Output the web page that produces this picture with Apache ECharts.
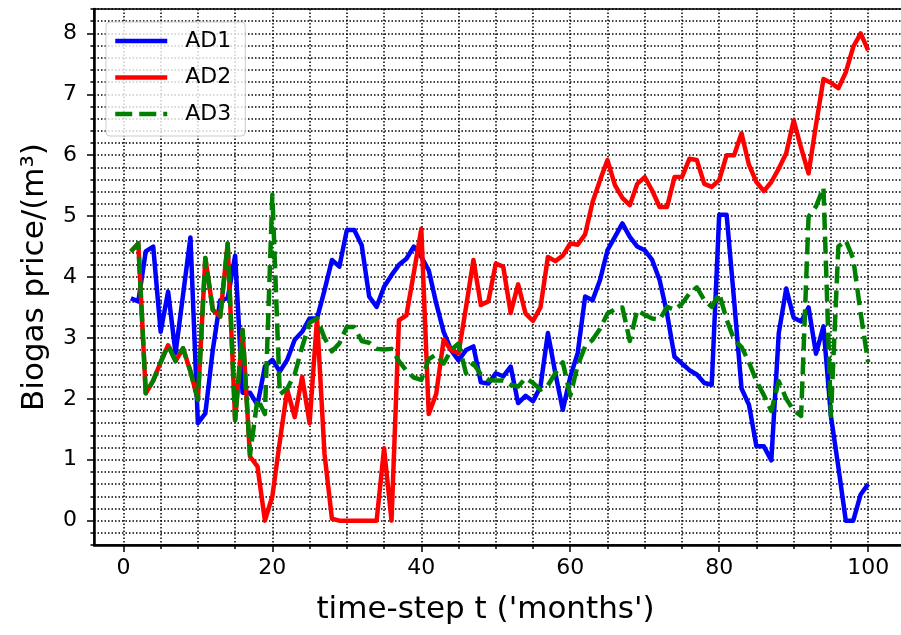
<!DOCTYPE html>
<html>
<head>
<meta charset="utf-8">
<script src="https://cdn.jsdelivr.net/npm/echarts@6/dist/echarts.min.js"></script>
<style>
html, body { margin: 0; padding: 0; background: #fff; }
#chart { width: 901px; height: 635px; }
</style>
</head>
<body>
<div id="chart"></div>
<script>
// time steps (months)
var steps = [];
for (var i = 1; i <= 100; i++) steps.push(i);

// biogas price per plant
var ad1 = [3.65, 3.6, 4.42, 4.5, 3.1, 3.76, 2.75, 3.7, 4.65, 1.6,
    1.76, 2.8, 3.62, 3.65, 4.35, 2.1, 2.1, 1.9, 2.53, 2.64,
    2.45, 2.64, 2.97, 3.1, 3.32, 3.32, 3.78, 4.28, 4.17, 4.77,
    4.77, 4.52, 3.68, 3.51, 3.84, 4.03, 4.2, 4.3, 4.5, 4.33,
    4.11, 3.57, 3.1, 2.8, 2.63, 2.8, 2.86, 2.27, 2.25, 2.42,
    2.37, 2.53, 1.93, 2.05, 1.96, 2.2, 3.08, 2.42, 1.82, 2.36,
    2.75, 3.68, 3.62, 3.95, 4.44, 4.66, 4.88, 4.66, 4.5, 4.44,
    4.28, 3.95, 3.4, 2.69, 2.58, 2.47, 2.4, 2.26, 2.23, 5.02,
    5.02, 3.62, 2.17, 1.9, 1.22, 1.22, 0.99, 3.08, 3.81, 3.33,
    3.27, 3.5, 2.74, 3.19, 1.72, 0.88, 0, 0, 0.43, 0.6];

var ad2 = [4.42, 4.55, 2.09, 2.3, 2.6, 2.88, 2.62, 2.83, 2.45, 1.98,
    4.31, 3.46, 3.35, 4.55, 1.65, 3.13, 1.05, 0.89, 0, 0.4,
    1.3, 2.15, 1.7, 2.36, 1.6, 3.32, 1.1, 0.03, 0, 0,
    0, 0, 0, 0, 1.19, 0, 3.29, 3.37, 4.07, 4.79,
    1.75, 2.08, 2.97, 2.8, 2.75, 3.5, 4.28, 3.54, 3.6, 4.22,
    4.17, 3.41, 3.88, 3.4, 3.28, 3.5, 4.33, 4.26, 4.35, 4.55,
    4.53, 4.7, 5.23, 5.59, 5.92, 5.51, 5.3, 5.18, 5.53, 5.64,
    5.42, 5.15, 5.15, 5.64, 5.64, 5.94, 5.92, 5.53, 5.48, 5.59,
    6.0, 6.0, 6.36, 5.84, 5.56, 5.41, 5.56, 5.78, 6.03, 6.57,
    6.12, 5.7, 6.5, 7.25, 7.19, 7.1, 7.36, 7.78, 8.0, 7.72];

var ad3 = [4.42, 4.55, 2.09, 2.3, 2.6, 2.88, 2.62, 2.83, 2.45, 1.98,
    4.31, 3.46, 3.35, 4.55, 1.65, 3.13, 1.08, 2.0, 1.75, 5.35,
    2.07, 2.17, 2.4, 2.85, 3.25, 3.32, 3.0, 2.78, 2.91, 3.18,
    3.18, 2.95, 2.92, 2.82, 2.81, 2.82, 2.62, 2.46, 2.35, 2.31,
    2.65, 2.73, 2.58, 2.8, 2.91, 2.42, 2.58, 2.4, 2.31, 2.3,
    2.3, 2.23, 2.2, 2.34, 2.26, 2.15, 2.22, 2.42, 2.6, 2.05,
    2.55, 2.86, 2.97, 3.15, 3.4, 3.47, 3.5, 2.95, 3.46, 3.38,
    3.32, 3.3, 3.51, 3.46, 3.56, 3.73, 3.83, 3.62, 3.51, 3.73,
    3.3, 2.97, 2.85, 2.6, 2.29, 2.06, 1.8, 2.29, 2.0, 1.81,
    1.72, 4.99, 5.16, 5.47, 1.72, 4.5, 4.6, 4.3, 3.4, 2.6];

// ticks
var xMajor = [0, 20, 40, 60, 80, 100];
var xMinor = [0, 5, 10, 15, 20, 25, 30, 35, 40, 45, 50, 55, 60, 65, 70, 75, 80, 85, 90, 95, 100];
var yMajor = [0, 1, 2, 3, 4, 5, 6, 7, 8];

var font = "DejaVu Sans";
var dots = { color: "#000", width: 1.5, type: [1.5, 2] };
var tickLine = { color: "#000", width: 1.5 };
var dashGreen = [17, 7];

function pairs(arr) {
    return steps.map((t, k) => [t, arr[k]]);
}

var myChart = echarts.init(document.querySelector("#chart"));
var option = {
    animation: false,
    backgroundColor: "#fff",
    grid: {
        left: 94,
        right: -4,
        top: 9,
        bottom: 90,
        show: true,
        borderColor: "#000",
        borderWidth: 1.5,
        outerBoundsMode: "none"
    },
    legend: {
        left: 106,
        top: 22,
        orient: "vertical",
        itemWidth: 52,
        itemHeight: 22,
        itemGap: 14.5,
        padding: [8, 14, 11, 7],
        backgroundColor: "rgba(255,255,255,0.8)",
        borderColor: "#cccccc",
        borderWidth: 1,
        borderRadius: 4,
        itemStyle: { opacity: 0 },
        textStyle: {
            fontFamily: font,
            fontSize: 22,
            color: "#000",
            padding: [0, 0, 0, 13]
        },
        data: [
            { name: "AD1", lineStyle: { width: 4.5 } },
            { name: "AD2", lineStyle: { width: 4.5 } },
            { name: "AD3", lineStyle: { width: 4.5, type: dashGreen, cap: "butt" } }
        ]
    },
    xAxis: [
        {
            type: "value",
            min: -3.95,
            max: 104.95,
            position: "bottom",
            axisLine: { onZero: false, lineStyle: { color: "#000", width: 2.5 } },
            axisTick: { customValues: xMinor, length: 4, lineStyle: tickLine },
            axisLabel: { show: false },
            splitLine: { show: true, lineStyle: dots }
        },
        {
            type: "value",
            min: -3.95,
            max: 104.95,
            position: "bottom",
            axisLine: { show: false, onZero: false },
            axisTick: { customValues: xMajor, length: 7, lineStyle: tickLine },
            axisLabel: {
                customValues: xMajor,
                margin: 12,
                fontFamily: font,
                fontSize: 22,
                color: "#000"
            },
            splitLine: { show: false },
            name: "time-step t ('months')",
            nameLocation: "middle",
            nameGap: 49,
            nameTextStyle: {
                fontFamily: font,
                fontSize: 31,
                color: "#000",
                padding: [0, 28, 0, 0]
            }
        }
    ],
    yAxis: [
        {
            type: "value",
            min: -0.4,
            max: 8.4,
            interval: 0.2,
            position: "left",
            axisLine: { onZero: false, lineStyle: { color: "#000", width: 2.5 } },
            axisTick: { length: 3.5, lineStyle: tickLine },
            axisLabel: { show: false },
            splitLine: { show: true, lineStyle: dots }
        },
        {
            type: "value",
            min: -0.4,
            max: 8.4,
            position: "left",
            axisLine: { show: false, onZero: false },
            axisTick: { customValues: yMajor, length: 7, lineStyle: tickLine },
            axisLabel: {
                customValues: yMajor,
                margin: 17,
                fontFamily: font,
                fontSize: 22,
                color: "#000"
            },
            splitLine: { show: false },
            name: "Biogas price/(m³)",
            nameLocation: "middle",
            nameGap: 44,
            nameTextStyle: {
                fontFamily: font,
                fontSize: 31,
                color: "#000"
            }
        }
    ],
    series: [
        {
            name: "AD1",
            type: "line",
            data: pairs(ad1),
            symbol: "none",
            color: "#0000ff",
            lineStyle: { width: 4.5, color: "#0000ff", join: "round" }
        },
        {
            name: "AD2",
            type: "line",
            data: pairs(ad2),
            symbol: "none",
            color: "#ff0000",
            lineStyle: { width: 4.5, color: "#ff0000", join: "round" }
        },
        {
            name: "AD3",
            type: "line",
            data: pairs(ad3),
            symbol: "none",
            color: "#008000",
            lineStyle: { width: 4.5, color: "#008000", type: dashGreen, cap: "butt", join: "round" }
        }
    ]
};
myChart.setOption(option);
</script>
</body>
</html>
